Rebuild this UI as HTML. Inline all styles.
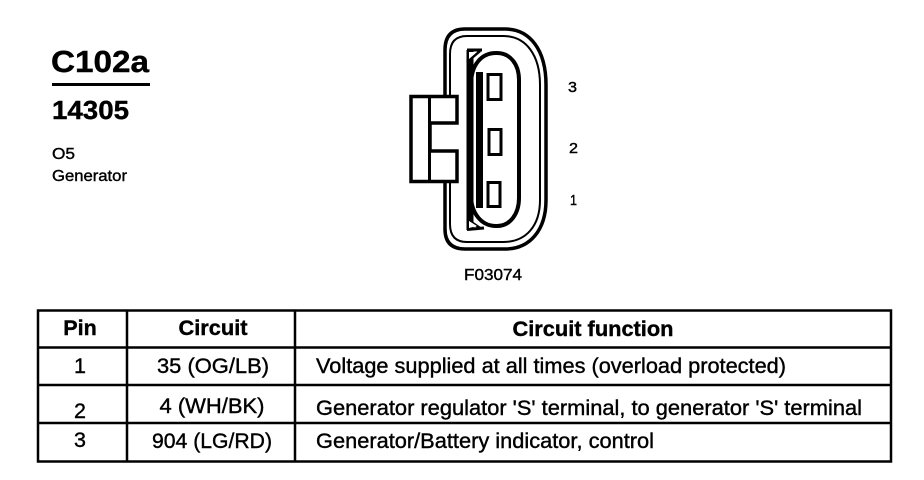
<!DOCTYPE html>
<html>
<head>
<meta charset="utf-8">
<style>
html,body{margin:0;padding:0;background:#fff;}
svg{display:block;}
text{font-family:"Liberation Sans",sans-serif;fill:#000;stroke:#000;stroke-width:.4px;}
</style>
</head>
<body>
<svg width="924" height="480" viewBox="0 0 924 480" xmlns="http://www.w3.org/2000/svg">
<rect width="924" height="480" fill="#fff"/>
<text x="51" y="72" font-size="31" font-weight="bold" stroke-width=".6" textLength="98" lengthAdjust="spacingAndGlyphs">C102a</text>
<rect x="52" y="83" width="98" height="3" fill="#000"/>
<text x="52" y="119" font-size="25.500" font-weight="bold" stroke-width=".5" textLength="77" lengthAdjust="spacingAndGlyphs">14305</text>
<text x="52" y="159" font-size="16" textLength="23" lengthAdjust="spacingAndGlyphs">O5</text>
<text x="52" y="181" font-size="16" textLength="75" lengthAdjust="spacingAndGlyphs">Generator</text>

<g fill="none" stroke="#000">
<path d="M445 96V50Q445 29 465 29H505C530 29 546 50 546 85V200C546 230 530 249 505 249H465Q445 249 445 229V182" stroke-width="3.500"/>
<path d="M450 96V54Q450 36 467 36H503C526 36 540 55 540 85V200C540 226 526 242 503 242H467Q450 242 450 224V182" stroke-width="2"/>
<path d="M411 96.500H457V123H430V151H457V181.500H411Z" stroke-width="3.500" fill="#fff"/>
<path d="M429.500 97V181" stroke-width="3"/>
<path d="M467 50H482" stroke-width="3"/>
<path d="M467 229.500L484 228" stroke-width="3"/>
<path d="M467 62L480 51M467 219L480 228" stroke-width="2.500"/>
<path d="M470 50V230" stroke-width="7"/>
<path d="M471 85C471 64 482 53 496 53H497C510 53 519 64 519 80V198C519 214 510 226 497 226H496C482 226 471 214 471 195Z" stroke-width="4"/>
<rect x="488" y="74.500" width="13" height="25" stroke-width="3"/>
<rect x="489" y="129.500" width="12" height="25" stroke-width="3"/>
<rect x="488" y="182.500" width="12" height="24" stroke-width="3"/>
</g>
<path d="M469 52H477L469 59ZM469 228L477 226L469 221Z" fill="#fff"/>
<rect x="476" y="72" width="7" height="136" fill="#000"/>
<text x="568" y="92" font-size="15" textLength="9" lengthAdjust="spacingAndGlyphs">3</text>
<text x="569" y="153" font-size="15" textLength="9" lengthAdjust="spacingAndGlyphs">2</text>
<text x="570" y="205" font-size="15" textLength="7" lengthAdjust="spacingAndGlyphs">1</text>
<text x="464" y="280" font-size="16" textLength="58" lengthAdjust="spacingAndGlyphs">F03074</text>

<g stroke="#000" stroke-width="2.500" fill="none">
<rect x="38" y="310.500" width="853" height="151"/>
<path d="M38 347.500H891M38 385H891M38 423H891M127 310V462M295 310V462"/>
</g>
<g font-size="21.500" text-anchor="middle">
<text x="80" y="335" font-weight="bold">Pin</text>
<text x="213" y="335" font-weight="bold" textLength="69" lengthAdjust="spacingAndGlyphs">Circuit</text>
<text x="593" y="336" font-weight="bold" textLength="161" lengthAdjust="spacingAndGlyphs">Circuit function</text>
<text x="80" y="373">1</text>
<text x="213" y="373" textLength="112" lengthAdjust="spacingAndGlyphs">35 (OG/LB)</text>
<text x="80" y="418">2</text>
<text x="212" y="413" textLength="105" lengthAdjust="spacingAndGlyphs">4 (WH/BK)</text>
<text x="80" y="447">3</text>
<text x="212" y="448" textLength="120" lengthAdjust="spacingAndGlyphs">904 (LG/RD)</text>
</g>
<g font-size="21.500">
<text x="316" y="373" textLength="470" lengthAdjust="spacingAndGlyphs">Voltage supplied at all times (overload protected)</text>
<text x="316" y="415" textLength="546" lengthAdjust="spacingAndGlyphs">Generator regulator 'S' terminal, to generator 'S' terminal</text>
<text x="316" y="448" textLength="338" lengthAdjust="spacingAndGlyphs">Generator/Battery indicator, control</text>
</g>
</svg>
</body>
</html>
